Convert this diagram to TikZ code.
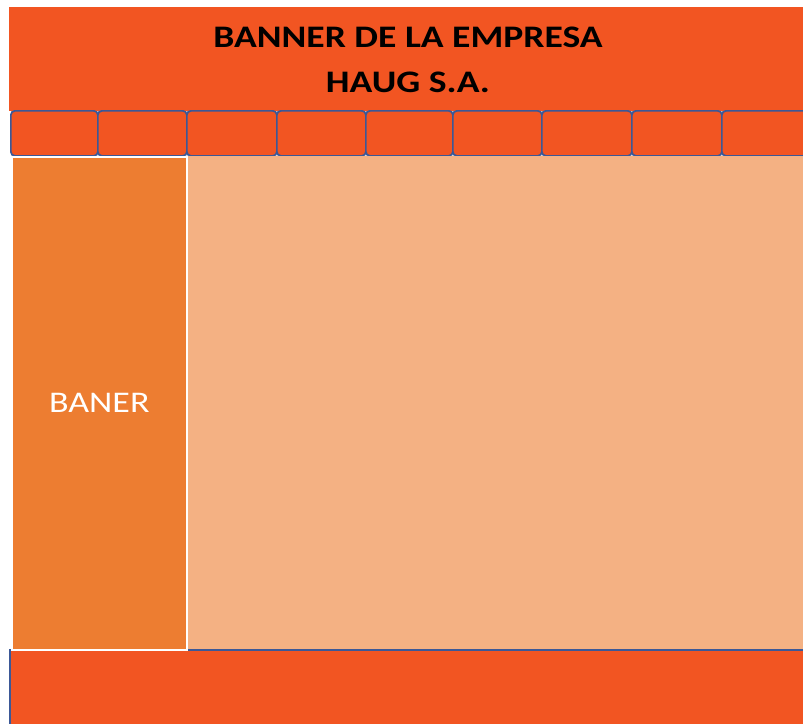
\documentclass[tikz,border=0pt]{standalone}
\usepackage{fontspec}
\setmainfont{Carlito}[FakeStretch=1.2]
\definecolor{bannerred}{HTML}{F25522}
\definecolor{sideorange}{HTML}{ED7D31}
\definecolor{contentpeach}{HTML}{F4B183}
\definecolor{menublue}{HTML}{3B5897}
\tikzset{
  menucell/.style={draw=menublue, line width=1.3pt, fill=bannerred, rounded corners=3pt},
  titletext/.style={font=\fontsize{23.5}{34}\selectfont\bfseries, align=center, text=black}
}
\begin{document}
\begin{tikzpicture}
  [x=0.75pt,y=-0.75pt]
  \useasboundingbox[fill=white] (0,0) rectangle (803,724);
  \clip (0,0) rectangle (803,724);
  % cabecera
  \fill[bannerred] (9,7) rectangle (803,111);
  \node[titletext] (titulo) at (408,60) {BANNER DE LA EMPRESA\\HAUG S.A.};

  % menu
  \foreach \a/\b [count=\i] in {10/97,97/186,186/276,276/365,365/452,452/541,541/631,631/721,721/812}
    \node[menucell, minimum width=(\b-\a)*0.75pt, minimum height=45*0.75pt, inner sep=0pt, anchor=north west] (m\i) at (\a,110) {};

  % pie
  \fill[bannerred] (10,650) rectangle (803,724);
  \draw[menublue, line width=1.3pt] (10,724) -- (10,650) -- (803,650);

  % cuerpo
  \fill[contentpeach] (186,156) rectangle (803,649);
  \node[draw=white, line width=1.2pt, fill=sideorange, minimum width=175*0.75pt, minimum height=493*0.75pt, anchor=north west, inner sep=0pt,
        text=white, font=\fontsize{22.5}{26}\selectfont] (lateral) at (11,156) {BANER};
\end{tikzpicture}
\end{document}
